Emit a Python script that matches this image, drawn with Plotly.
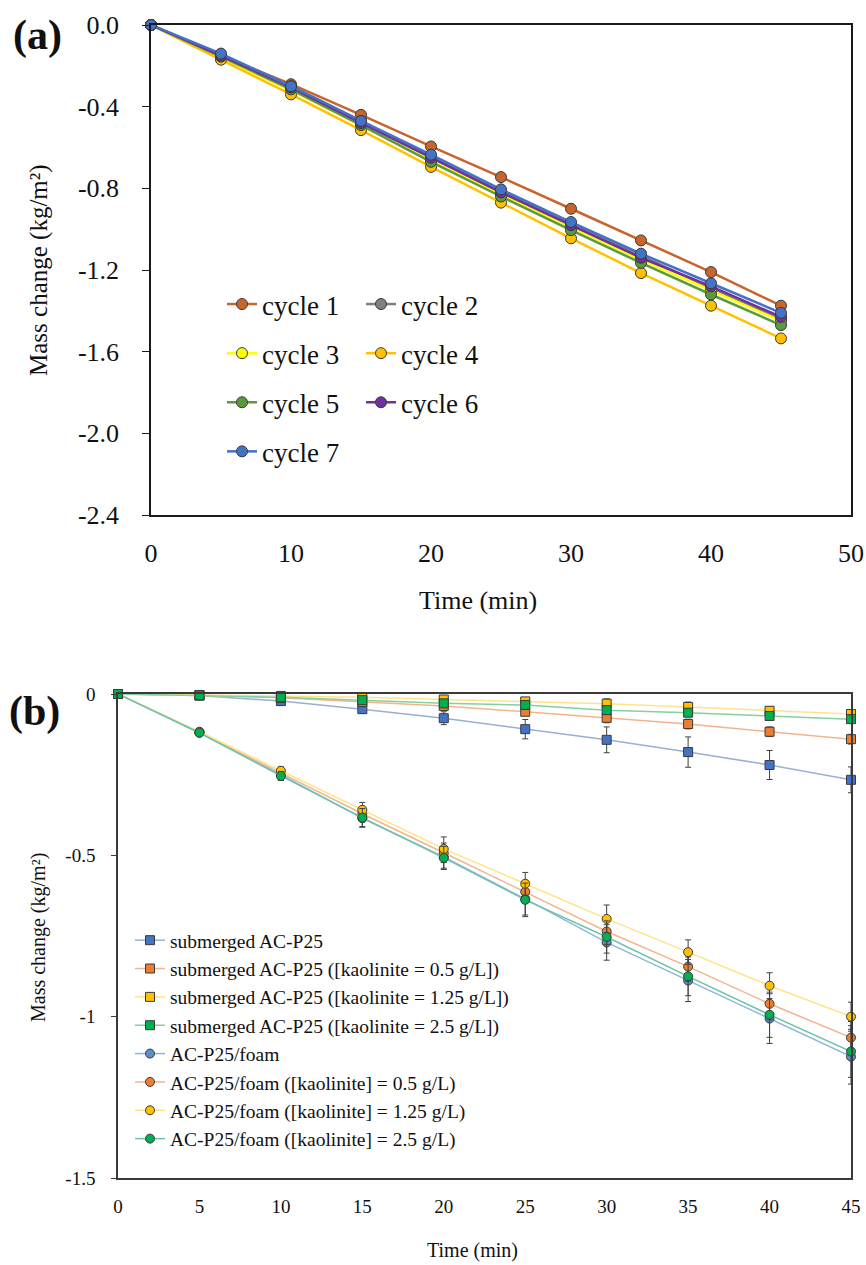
import plotly.graph_objects as go

# ---------------- data: panel (a) ----------------
time_a = [0, 5, 10, 15, 20, 25, 30, 35, 40, 45]
cycle_names = ["cycle 1", "cycle 2", "cycle 3", "cycle 4", "cycle 5", "cycle 6", "cycle 7"]
cycle1 = [0, -0.150, -0.290, -0.440, -0.595, -0.745, -0.900, -1.055, -1.210, -1.375]
cycle2 = [0, -0.150, -0.300, -0.470, -0.645, -0.815, -0.975, -1.130, -1.290, -1.440]
cycle3 = [0, -0.160, -0.320, -0.490, -0.665, -0.830, -0.990, -1.150, -1.300, -1.450]
cycle4 = [0, -0.170, -0.340, -0.515, -0.695, -0.870, -1.045, -1.215, -1.375, -1.535]
cycle5 = [0, -0.155, -0.315, -0.490, -0.670, -0.840, -1.005, -1.165, -1.320, -1.470]
cycle6 = [0, -0.150, -0.305, -0.480, -0.650, -0.820, -0.980, -1.140, -1.280, -1.430]
cycle7 = [0, -0.140, -0.300, -0.470, -0.635, -0.805, -0.965, -1.120, -1.265, -1.410]
cycles = [cycle1, cycle2, cycle3, cycle4, cycle5, cycle6, cycle7]
cycle_colors = ["#C8642D", "#7F7F7F", "#FFFF00", "#FFC000", "#5B9A3B", "#7030A0", "#4472C4"]

ya_ticks = [0, -0.4, -0.8, -1.2, -1.6, -2.0, -2.4]
ya_ticktext = ["0.0", "-0.4", "-0.8", "-1.2", "-1.6", "-2.0", "-2.4"]
xa_ticks = [0, 10, 20, 30, 40, 50]

# ---------------- data: panel (b) ----------------
time_b = [0, 5, 10, 15, 20, 25, 30, 35, 40, 45]
names_b = [
    "submerged AC-P25",
    "submerged AC-P25 ([kaolinite = 0.5 g/L])",
    "submerged AC-P25 ([kaolinite = 1.25 g/L])",
    "submerged AC-P25 ([kaolinite = 2.5 g/L])",
    "AC-P25/foam",
    "AC-P25/foam ([kaolinite] = 0.5 g/L)",
    "AC-P25/foam ([kaolinite] = 1.25 g/L)",
    "AC-P25/foam ([kaolinite] = 2.5 g/L)",
]
sub_blue = [0, -0.005, -0.022, -0.047, -0.075, -0.109, -0.142, -0.180, -0.220, -0.266]
sub_blue_err = [0, 0.003, 0.008, 0.012, 0.020, 0.030, 0.040, 0.047, 0.045, 0.040]
sub_orange = [0, -0.004, -0.012, -0.025, -0.037, -0.055, -0.074, -0.093, -0.117, -0.140]
sub_orange_err = [0, 0.002, 0.005, 0.008, 0.010, 0.012, 0.015, 0.015, 0.015, 0.015]
sub_yellow = [0, -0.003, -0.006, -0.010, -0.017, -0.023, -0.030, -0.040, -0.052, -0.062]
sub_yellow_err = [0, 0.002, 0.004, 0.006, 0.010, 0.012, 0.015, 0.015, 0.012, 0.012]
sub_green = [0, -0.004, -0.010, -0.019, -0.029, -0.034, -0.050, -0.058, -0.068, -0.078]
sub_green_err = [0, 0.002, 0.004, 0.006, 0.008, 0.010, 0.012, 0.012, 0.012, 0.012]
foam_blue = [0, -0.120, -0.250, -0.385, -0.505, -0.635, -0.770, -0.888, -1.006, -1.124]
foam_blue_err = [0, 0.008, 0.015, 0.028, 0.035, 0.050, 0.055, 0.065, 0.077, 0.085]
foam_orange = [0, -0.118, -0.245, -0.371, -0.492, -0.613, -0.736, -0.845, -0.960, -1.065]
foam_orange_err = [0, 0.008, 0.012, 0.020, 0.030, 0.035, 0.040, 0.045, 0.050, 0.050]
foam_yellow = [0, -0.117, -0.238, -0.359, -0.480, -0.588, -0.697, -0.800, -0.904, -1.000]
foam_yellow_err = [0, 0.008, 0.012, 0.023, 0.037, 0.035, 0.043, 0.038, 0.040, 0.045]
foam_green = [0, -0.120, -0.254, -0.383, -0.508, -0.638, -0.753, -0.875, -0.994, -1.108]
foam_green_err = [0, 0.008, 0.014, 0.028, 0.036, 0.052, 0.050, 0.060, 0.070, 0.080]

values_b = [sub_blue, sub_orange, sub_yellow, sub_green, foam_blue, foam_orange, foam_yellow, foam_green]
errors_b = [sub_blue_err, sub_orange_err, sub_yellow_err, sub_green_err,
            foam_blue_err, foam_orange_err, foam_yellow_err, foam_green_err]
marker_colors_b = ["#4472C4", "#ED7D31", "#FFC000", "#00B050", "#5B8FC8", "#ED7D31", "#FFC000", "#00B050"]
line_colors_b = ["#9AAED6", "#F2B48E", "#FFE38A", "#86CFA2", "#8FB4DB", "#F2B48E", "#FFE38A", "#6CC4A8"]
symbols_b = ["square"] * 4 + ["circle"] * 4

yb_ticks = [0, -0.5, -1, -1.5]
yb_ticktext = ["0", "-0.5", "-1", "-1.5"]
xb_ticks = [0, 5, 10, 15, 20, 25, 30, 35, 40, 45]

# ---------------- figure ----------------
W, H = 866, 1265
FONT = "Liberation Serif, Times New Roman, serif"
fig = go.Figure()

# panel (a) traces: odd cycles in legend, even cycles in legend2
for i, (name, vals, col) in enumerate(zip(cycle_names, cycles, cycle_colors)):
    fig.add_trace(go.Scatter(
        x=time_a, y=vals, name=name, mode="lines+markers",
        line=dict(color=col, width=2.5),
        marker=dict(color=col, size=11, line=dict(color="#3A3A3A", width=1)),
        xaxis="x", yaxis="y", cliponaxis=False,
        legend="legend" if i % 2 == 0 else "legend2",
        legendgroup=name,
    ))

# panel (b) traces: foam drawn first, submerged on top
draw_order = [4, 5, 6, 7, 0, 1, 2, 3]
for k in draw_order:
    fig.add_trace(go.Scatter(
        x=time_b, y=values_b[k], name=names_b[k], mode="lines+markers",
        line=dict(color=line_colors_b[k], width=1.5),
        marker=dict(color=marker_colors_b[k], size=9, symbol=symbols_b[k],
                    line=dict(color="#3A3A3A", width=1)),
        error_y=dict(type="data", array=errors_b[k], visible=True,
                     color="#404040", thickness=1, width=3),
        xaxis="x2", yaxis="y2", cliponaxis=False,
        legend="legend3", legendrank=k + 1,
    ))

ax_common = dict(showgrid=False, zeroline=False, showline=True, mirror=True)

fig.update_layout(
    width=W, height=H,
    margin=dict(l=0, r=0, t=0, b=0),
    paper_bgcolor="white", plot_bgcolor="white",
    font=dict(family=FONT, color="#111111"),
    xaxis=dict(domain=[151 / W, 851 / W], range=[0, 50], tickvals=xa_ticks,
               ticks="", tickfont=dict(size=26), ticklabelstandoff=14,
               linecolor="#1A1A1A", linewidth=1.5, anchor="y", automargin=False, **ax_common),
    yaxis=dict(domain=[1 - 515 / H, 1 - 25 / H], range=[-2.4, 0], tickvals=ya_ticks,
               ticktext=ya_ticktext, ticks="outside", ticklen=7, tickcolor="#1A1A1A",
               tickfont=dict(size=26), ticklabelstandoff=18,
               linecolor="#1A1A1A", linewidth=1.5, anchor="x", automargin=False, **ax_common),
    xaxis2=dict(domain=[118 / W, 851 / W], range=[0, 45], tickvals=xb_ticks,
                ticks="", tickfont=dict(size=19), ticklabelstandoff=10,
                linecolor="#3A3A3A", linewidth=1.5, anchor="y2", automargin=False, **ax_common),
    yaxis2=dict(domain=[1 - 1178 / H, 1 - 694 / H], range=[-1.5, 0], tickvals=yb_ticks,
                ticktext=yb_ticktext, ticks="outside", ticklen=5, tickcolor="#3A3A3A",
                tickfont=dict(size=19), ticklabelstandoff=12,
                linecolor="#3A3A3A", linewidth=1.5, anchor="x2", automargin=False, **ax_common),
    legend=dict(x=222 / W, y=1 - 280 / H, xanchor="left", yanchor="top",
                font=dict(size=27), bgcolor="rgba(0,0,0,0)", itemwidth=30,
                tracegroupgap=11, traceorder="grouped"),
    legend2=dict(x=361 / W, y=1 - 280 / H, xanchor="left", yanchor="top",
                 font=dict(size=27), bgcolor="rgba(0,0,0,0)", itemwidth=30,
                 tracegroupgap=11, traceorder="grouped"),
    legend3=dict(x=130 / W, y=1 - 921 / H, xanchor="left", yanchor="top",
                 font=dict(size=19.5), bgcolor="rgba(0,0,0,0)", itemwidth=30,
                 tracegroupgap=0, traceorder="normal"),
    showlegend=True,
)

ann = [
    dict(text="<b>(a)</b>", x=37 / W, y=1 - 36 / H, font=dict(size=42)),
    dict(text="<b>(b)</b>", x=34 / W, y=1 - 711 / H, font=dict(size=42)),
    dict(text="Mass change (kg/m²)", x=39 / W, y=1 - 270 / H, font=dict(size=25), textangle=-90),
    dict(text="Time (min)", x=478 / W, y=1 - 601 / H, font=dict(size=26)),
    dict(text="Mass change (kg/m²)", x=38 / W, y=1 - 938 / H, font=dict(size=20), textangle=-90),
    dict(text="Time (min)", x=472 / W, y=1 - 1250 / H, font=dict(size=20)),
]
for a in ann:
    fig.add_annotation(xref="paper", yref="paper", showarrow=False,
                       xanchor="center", yanchor="middle", **a)

fig.write_html("out.html", config={"displayModeBar": False},
               post_script="document.body.style.margin='0';document.body.style.overflow='hidden';")
